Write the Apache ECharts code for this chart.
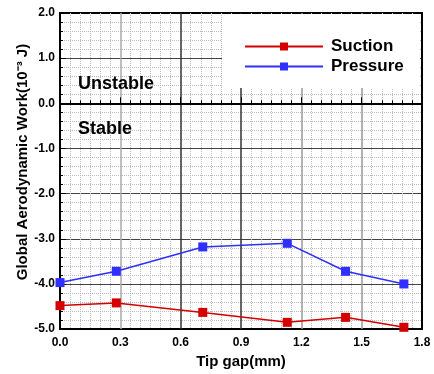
<!DOCTYPE html>
<html>
<head>
<meta charset="utf-8">
<script src="https://cdn.jsdelivr.net/npm/echarts@6/dist/echarts.min.js"></script>
<style>
  html, body { margin: 0; padding: 0; background: #fff; }
  #chart { width: 434px; height: 374px; }
</style>
</head>
<body>
<div id="chart"></div>
<script>
// tip gap (mm) for each sample
const tipGap = [0.0, 0.28, 0.71, 1.13, 1.42, 1.71]
const suction = [-4.48, -4.42, -4.63, -4.85, -4.74, -4.96]
const pressure = [-3.97, -3.72, -3.18, -3.10, -3.72, -4.00]

const FONT = "'Liberation Sans', Arial, sans-serif"
const RED = '#d40000'
const BLUE = '#2f2fff'

const chart = echarts.init(document.getElementById('chart'), null, { renderer: 'canvas' })

const pairs = (xs, ys) => xs.map((x, i) => [x, ys[i]])

chart.setOption({
  animation: false,
  backgroundColor: '#fff',
  grid: {
    left: 60, right: 12, top: 13, bottom: 38,
    show: true, borderColor: '#000', borderWidth: 2, backgroundColor: 'transparent'
  },
  legend: {
    left: 239, top: 32, orient: 'vertical', z: 20,
    itemWidth: 78, itemHeight: 10, itemGap: 1,
    textStyle: { fontFamily: FONT, fontSize: 17, fontWeight: 'bold', color: '#000', lineHeight: 19, padding: [0, 0, 0, 3] },
    data: ['Suction', 'Pressure']
  },
  graphic: [
    { type: 'rect', left: 222, top: 14, z: 1, shape: { width: 198, height: 74 }, style: { fill: '#fff' } },
    { type: 'text', left: 78, top: 75, z: 5, style: { text: 'Unstable', font: 'bold 18px ' + FONT, fill: '#000' } },
    { type: 'text', left: 78, top: 120, z: 5, style: { text: 'Stable', font: 'bold 18px ' + FONT, fill: '#000' } }
  ],
  xAxis: {
    type: 'value', min: 0, max: 1.8, interval: 0.3,
    name: 'Tip gap(mm)', nameLocation: 'middle', nameGap: 18,
    nameTextStyle: { fontFamily: FONT, fontSize: 15, fontWeight: 'bold', color: '#000' },
    axisLine: { lineStyle: { color: '#000', width: 2 } },
    axisTick: { inside: true, length: 6, lineStyle: { color: '#000' } },
    minorTick: { show: true, splitNumber: 6, length: 3, lineStyle: { color: '#000' } },
    axisLabel: { margin: 8, fontFamily: FONT, fontSize: 12, fontWeight: 'bold', color: '#000', formatter: v => v.toFixed(1) },
    splitLine: { show: true, lineStyle: { color: ['#000', '#aaa', '#333', '#333', '#999', '#999', '#000'], width: 1.5 } },
    minorSplitLine: { show: true, lineStyle: { color: '#bbb', type: [1, 1], width: 1 } }
  },
  yAxis: {
    type: 'value', min: -5, max: 2, interval: 1,
    name: 'Global Aerodynamic Work(10⁻³ J)', nameLocation: 'middle', nameGap: 30, nameMoveOverlap: false,
    nameTextStyle: { fontFamily: FONT, fontSize: 15, fontWeight: 'bold', color: '#000', padding: [0, 0, 0, 18] },
    axisLine: { lineStyle: { color: '#000', width: 2 } },
    axisTick: { inside: true, length: 6, lineStyle: { color: '#000' } },
    minorTick: { show: true, splitNumber: 5, length: 3, lineStyle: { color: '#000' } },
    axisLabel: { margin: 5, fontFamily: FONT, fontSize: 12, fontWeight: 'bold', color: '#000', formatter: v => v.toFixed(1) },
    splitLine: { show: true, lineStyle: { color: ['#000', '#444', '#444', '#444', '#444', '#000', '#444', '#000'], width: 1 } },
    minorSplitLine: { show: true, lineStyle: { color: '#bbb', type: [1, 1], width: 1 } }
  },
  series: [
    {
      name: 'Suction', type: 'line', data: pairs(tipGap, suction),
      symbol: 'rect', symbolSize: 9, itemStyle: { color: RED },
      lineStyle: { color: RED, width: 1.5 },
      markLine: {
        silent: true, symbol: 'none', label: { show: false },
        lineStyle: { color: '#000', width: 2, type: 'solid' },
        data: [{ yAxis: 0 }]
      }
    },
    {
      name: 'Pressure', type: 'line', data: pairs(tipGap, pressure),
      symbol: 'rect', symbolSize: 9, itemStyle: { color: BLUE },
      lineStyle: { color: BLUE, width: 1.5 }
    }
  ]
})
</script>
</body>
</html>
